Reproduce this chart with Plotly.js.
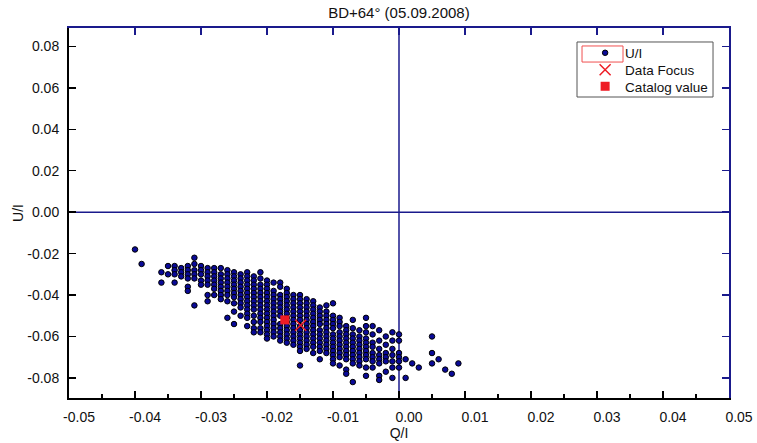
<!DOCTYPE html>
<html>
<head>
<meta charset="utf-8">
<script src="https://cdn.plot.ly/plotly-3.0.1.min.js"></script>
<style>html,body{margin:0;padding:0;background:#fff;}#chart{width:757px;height:443px;}</style>
</head>
<body>
<div id="chart"></div>
<script>
// Q/I column positions and the U/I values observed in each column
var colQ = [-0.040, -0.039, -0.036, -0.035, -0.034, -0.033, -0.032, -0.031, -0.030, -0.029,
            -0.028, -0.027, -0.026, -0.025, -0.024, -0.023, -0.022, -0.021, -0.020, -0.019,
            -0.018, -0.017, -0.016, -0.015, -0.014, -0.013, -0.012, -0.011, -0.010, -0.009,
            -0.008, -0.007, -0.006, -0.005, -0.004, -0.003, -0.002, -0.001, 0.000, 0.001,
            0.002, 0.003, 0.005, 0.006, 0.007, 0.008, 0.009];
var colU = [
  [-0.018],
  [-0.025],
  [-0.029, -0.034],
  [-0.026, -0.030],
  [-0.026, -0.028, -0.030, -0.034],
  [-0.027, -0.029, -0.031],
  [-0.026, -0.028, -0.030, -0.032, -0.036, -0.038],
  [-0.022, -0.025, -0.028, -0.030, -0.032, -0.045],
  [-0.026, -0.028, -0.030, -0.033, -0.035],
  [-0.027, -0.029, -0.031, -0.033, -0.035, -0.040, -0.043],
  [-0.027, -0.029, -0.031, -0.033, -0.035, -0.037, -0.040],
  [-0.027, -0.030, -0.032, -0.034, -0.036, -0.038, -0.040, -0.042],
  [-0.028, -0.030, -0.032, -0.034, -0.036, -0.038, -0.040, -0.043, -0.051],
  [-0.029, -0.031, -0.033, -0.035, -0.037, -0.039, -0.041, -0.044, -0.048, -0.054],
  [-0.030, -0.032, -0.034, -0.036, -0.038, -0.040, -0.042, -0.044, -0.046, -0.050],
  [-0.029, -0.031, -0.033, -0.035, -0.037, -0.039, -0.041, -0.043, -0.045, -0.047, -0.049, -0.051, -0.055],
  [-0.031, -0.033, -0.035, -0.037, -0.039, -0.041, -0.043, -0.045, -0.047, -0.050, -0.053, -0.056, -0.058],
  [-0.029, -0.032, -0.035, -0.037, -0.039, -0.041, -0.043, -0.045, -0.047, -0.049, -0.051, -0.053, -0.056, -0.058],
  [-0.033, -0.035, -0.037, -0.039, -0.041, -0.043, -0.045, -0.047, -0.049, -0.051, -0.053, -0.055, -0.057, -0.059, -0.061],
  [-0.034, -0.038, -0.040, -0.042, -0.044, -0.046, -0.048, -0.050, -0.052, -0.054, -0.056, -0.058, -0.060],
  [-0.034, -0.036, -0.040, -0.042, -0.044, -0.046, -0.048, -0.050, -0.054, -0.056, -0.058, -0.060, -0.062],
  [-0.037, -0.039, -0.041, -0.043, -0.045, -0.047, -0.049, -0.051, -0.053, -0.055, -0.057, -0.059, -0.061, -0.063],
  [-0.040, -0.042, -0.044, -0.046, -0.048, -0.050, -0.052, -0.054, -0.056, -0.058, -0.060, -0.062, -0.064],
  [-0.040, -0.042, -0.044, -0.046, -0.048, -0.050, -0.052, -0.055, -0.057, -0.059, -0.061, -0.063, -0.065, -0.067, -0.074],
  [-0.042, -0.044, -0.046, -0.048, -0.050, -0.052, -0.054, -0.056, -0.058, -0.060, -0.062, -0.064, -0.066],
  [-0.043, -0.045, -0.047, -0.049, -0.051, -0.053, -0.055, -0.057, -0.059, -0.061, -0.063, -0.065, -0.068],
  [-0.046, -0.048, -0.050, -0.052, -0.054, -0.057, -0.059, -0.061, -0.063, -0.065, -0.067, -0.071],
  [-0.045, -0.048, -0.050, -0.052, -0.054, -0.056, -0.058, -0.060, -0.062, -0.064, -0.066, -0.068],
  [-0.044, -0.050, -0.052, -0.054, -0.056, -0.059, -0.061, -0.063, -0.065, -0.067, -0.069, -0.071, -0.073],
  [-0.051, -0.053, -0.055, -0.058, -0.060, -0.062, -0.064, -0.066, -0.068, -0.070, -0.074],
  [-0.055, -0.057, -0.059, -0.061, -0.063, -0.065, -0.067, -0.069, -0.071, -0.076, -0.078],
  [-0.052, -0.056, -0.059, -0.061, -0.063, -0.065, -0.067, -0.069, -0.071, -0.073, -0.082],
  [-0.057, -0.060, -0.062, -0.064, -0.066, -0.068, -0.070, -0.072, -0.074],
  [-0.051, -0.055, -0.058, -0.061, -0.063, -0.065, -0.067, -0.069, -0.071, -0.075, -0.079],
  [-0.055, -0.059, -0.063, -0.065, -0.068, -0.070, -0.072, -0.075],
  [-0.057, -0.062, -0.066, -0.069, -0.071, -0.073, -0.079, -0.081],
  [-0.060, -0.064, -0.068, -0.070, -0.072, -0.077],
  [-0.058, -0.062, -0.066, -0.069, -0.072, -0.075, -0.080],
  [-0.059, -0.062, -0.068, -0.070, -0.072, -0.075],
  [-0.071, -0.080],
  [-0.073],
  [-0.075],
  [-0.060, -0.068, -0.073],
  [-0.071],
  [-0.076],
  [-0.078],
  [-0.073]
];
var focusQ = [-0.0149], focusU = [-0.0546];
var catalogQ = [-0.0173], catalogU = [-0.0520];
var xTickVals = [-0.05, -0.04, -0.03, -0.02, -0.01, 0.00, 0.01, 0.02, 0.03, 0.04, 0.05];
var xTickText = ["-0.05", "-0.04", "-0.03", "-0.02", "-0.01", "0.00", "0.01", "0.02", "0.03", "0.04", "0.05"];
var yTickVals = [-0.08, -0.06, -0.04, -0.02, 0.00, 0.02, 0.04, 0.06, 0.08];
var yTickText = ["-0.08", "-0.06", "-0.04", "-0.02", "0.00", "0.02", "0.04", "0.06", "0.08"];

var qi = [], ui = [];
colQ.forEach(function (q, i) { colU[i].forEach(function (u) { qi.push(q); ui.push(u); }); });

var navy = "#1a1a8c";
var red = "#ee1c25";
var fam = "Liberation Sans, Arial, sans-serif";
var font = {family: fam, size: 14, color: "#111"};
var legFont = {family: fam, size: 13.5, color: "#111"};

var traces = [
  {x: qi, y: ui, type: "scatter", mode: "markers", name: "U/I", legend: "legend",
   marker: {symbol: "circle", size: 5.5, color: "#0a0a98", line: {color: "#000", width: 1}}},
  {x: focusQ, y: focusU, type: "scatter", mode: "markers", name: "Data Focus", legend: "legend2",
   marker: {symbol: "x-thin", size: 11, color: red, line: {color: red, width: 1.5}}},
  {x: catalogQ, y: catalogU, type: "scatter", mode: "markers", name: "Catalog value", legend: "legend3",
   marker: {symbol: "square", size: 9, color: red, line: {width: 0}}},
  {x: [-0.05, 0.05], y: [0, 0], xaxis: "x2", yaxis: "y2", mode: "none", type: "scatter",
   showlegend: false, hoverinfo: "skip"}
];

function leg(y) {
  return {x: 0.782, y: y, xanchor: "left", yanchor: "middle",
          bgcolor: "rgba(0,0,0,0)", borderwidth: 0, font: legFont, itemwidth: 30};
}

var layout = {
  width: 757, height: 443,
  margin: {l: 69, r: 28, t: 28, b: 45},
  paper_bgcolor: "#fff", plot_bgcolor: "#fff",
  font: font,
  showlegend: true,
  title: {text: "BD+64° (05.09.2008)", x: 0.527, xanchor: "center", y: 0.972, yanchor: "middle",
          yref: "container", font: {family: fam, size: 15, color: "#111"}},
  xaxis: {range: [-0.05, 0.05], tickvals: xTickVals, ticktext: xTickText,
          ticks: "inside", ticklen: 7, tickwidth: 1.5, tickcolor: "#000",
          minor: {dtick: 0.01, tick0: 0.005, ticks: "inside", ticklen: 4, tickwidth: 1.5, tickcolor: "#000"},
          showline: true, linecolor: "#000", linewidth: 2, showgrid: false, zeroline: false,
          ticklabelshift: 10, ticklabelstandoff: 5,
          title: {text: "Q/I", font: {family: fam, size: 14, color: "#111"}, standoff: 3},
          tickfont: font, fixedrange: true},
  yaxis: {range: [-0.0897, 0.0889], tickvals: yTickVals, ticktext: yTickText,
          ticks: "inside", ticklen: 7, tickwidth: 1.5, tickcolor: "#000",
          showline: true, linecolor: "#000", linewidth: 2, showgrid: false, zeroline: false,
          ticklabelstandoff: 5,
          title: {text: "U/I", font: {family: fam, size: 14, color: "#111"}, standoff: 0},
          tickfont: font, fixedrange: true},
  xaxis2: {overlaying: "x", side: "top", range: [-0.05, 0.05], tickvals: xTickVals,
           showticklabels: false, ticks: "inside", ticklen: 7, tickwidth: 1.5, tickcolor: navy,
           showline: true, linecolor: navy, linewidth: 2, showgrid: false, zeroline: false, fixedrange: true},
  yaxis2: {overlaying: "y", side: "right", range: [-0.0897, 0.0889], tickvals: yTickVals,
           showticklabels: false, ticks: "inside", ticklen: 7, tickwidth: 1.5, tickcolor: navy,
           showline: true, linecolor: navy, linewidth: 2, showgrid: false, zeroline: false, fixedrange: true},
  legend: leg(0.9324),
  legend2: leg(0.8865),
  legend3: leg(0.8419),
  shapes: [
    {type: "line", xref: "x", yref: "paper", x0: 0, x1: 0, y0: 0, y1: 1,
     line: {color: navy, width: 1.5}, layer: "below"},
    {type: "line", xref: "paper", yref: "y", x0: 0, x1: 1, y0: 0, y1: 0,
     line: {color: navy, width: 1.5}, layer: "below"},
    {type: "rect", xref: "paper", yref: "paper", x0: 0.7697, x1: 0.9758, y0: 0.8135, y1: 0.9622,
     line: {color: "#555", width: 1}, fillcolor: "#fff", layer: "below"},
    {type: "rect", xref: "paper", yref: "paper", x0: 0.7773, x1: 0.8394, y0: 0.908, y1: 0.9514,
     line: {color: "#f05050", width: 1}}
  ]
};

Plotly.newPlot("chart", traces, layout, {displayModeBar: false, staticPlot: true});
</script>
</body>
</html>
